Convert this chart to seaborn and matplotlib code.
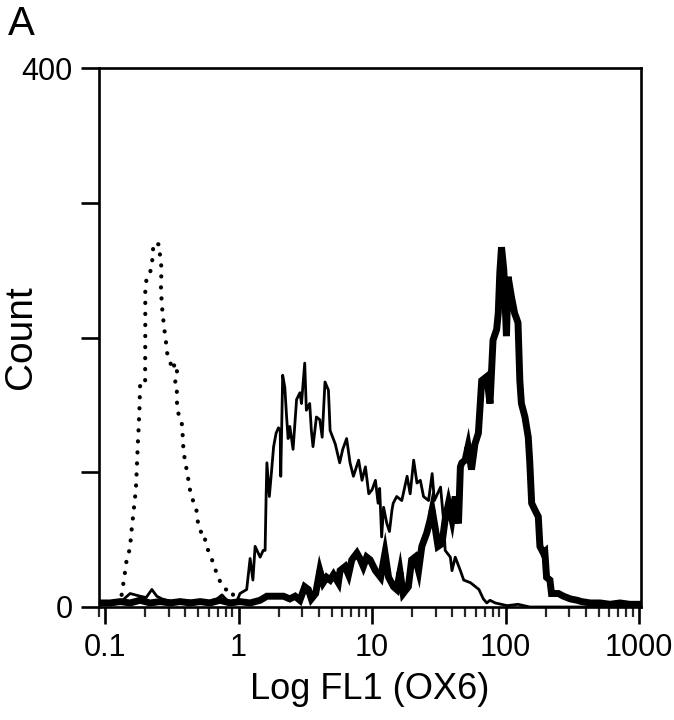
import numpy as np
import pandas as pd
import matplotlib
matplotlib.use("Agg")
import matplotlib.pyplot as plt
import seaborn as sns
from matplotlib.ticker import LogLocator, FixedLocator, NullFormatter, FixedFormatter

# ---------------- data ----------------
# isotype control (dotted)
iso_x = [0.133, 0.141, 0.145, 0.154, 0.156, 0.163, 0.170, 0.173, 0.176, 0.178, 0.181, 0.183,
         0.1995, 0.1995, 0.200, 0.200, 0.200, 0.205, 0.217, 0.224, 0.228, 0.230, 0.255, 0.258,
         0.266, 0.261, 0.266, 0.277, 0.285, 0.290, 0.302, 0.318, 0.335, 0.352, 0.330, 0.345,
         0.344, 0.350, 0.375, 0.382, 0.386, 0.397, 0.414, 0.428, 0.446, 0.481, 0.491, 0.515,
         0.561, 0.561, 0.612, 0.659, 0.706, 0.762, 0.792, 0.889, 0.914, 0.970]
iso_y = [9, 26, 35, 44, 52, 70, 87, 104, 122, 131, 148, 165,
         165, 174, 200, 218, 235, 245, 248, 254, 263, 270, 269, 260,
         250, 241, 224, 207, 198, 189, 185, 176, 181, 171, 166, 162,
         154, 145, 137, 126, 117, 108, 99, 89, 81, 74, 65, 56,
         55, 47, 39, 30, 21, 16, 13, 13, 8, 4]

# thin solid curve
thin_x = [0.092, 0.100, 0.113, 0.132, 0.146, 0.154, 0.168, 0.183, 0.203, 0.224, 0.244, 0.267,
          0.291, 0.334, 0.397, 0.472, 0.562, 0.632, 0.690, 0.751, 0.818, 0.892, 0.960, 1.024,
          1.15, 1.22, 1.28, 1.33, 1.45, 1.53, 1.58, 1.61, 1.63, 1.70, 1.77, 1.83,
          1.91, 1.99, 2.05, 2.07, 2.14, 2.22, 2.29, 2.35, 2.42, 2.56, 2.72, 2.88,
          2.96, 3.13, 3.22, 3.41, 3.51, 3.61, 3.83, 4.06, 4.23, 4.44, 4.71, 4.85,
          5.30, 5.72, 6.03, 6.45, 6.84, 7.25, 7.93, 8.41, 8.92, 9.45, 10.0, 10.6,
          11.1, 11.4, 11.8, 12.2, 12.9, 13.5, 14.1, 14.4, 15.3, 16.7, 18.3, 19.3,
          20.5, 21.7, 23.0, 24.3, 26.5, 28.2, 29.3, 32.6, 34.3, 35.3, 38.6, 39.7,
          42.0, 45.9, 48.6, 54.7, 63.2, 68.2, 72.4, 76.5, 83.7, 103.0, 124.0, 152.0,
          256.0, 1035.0]
thin_y = [2, 3, 2, 4, 8, 10, 9, 8, 7, 13, 8, 6,
          5, 4, 5, 4, 3, 5, 6, 9, 5, 4, 3, 10,
          13, 36, 20, 45, 37, 42, 42, 85, 107, 82, 102, 119,
          129, 133, 131, 97, 172, 163, 141, 125, 134, 117, 154, 159,
          151, 181, 146, 151, 131, 119, 141, 139, 126, 167, 161, 131,
          121, 107, 117, 125, 107, 97, 109, 94, 104, 84, 87, 94,
          77, 88, 52, 74, 62, 56, 72, 77, 82, 79, 97, 84,
          109, 92, 94, 82, 79, 99, 79, 89, 65, 42, 37, 27,
          37, 27, 20, 18, 13, 6, 3, 5, 3, 1, 2, 0,
          0, 0]

# thick solid curve
thick_x = [0.092, 0.109, 0.130, 0.154, 0.183, 0.217, 0.258, 0.307, 0.365, 0.433, 0.515, 0.612,
           0.726, 0.863, 1.024, 1.22, 1.45, 1.63, 2.17, 2.42, 2.65, 2.88, 3.13, 3.33,
           3.51, 3.78, 4.06, 4.30, 4.57, 4.85, 5.14, 5.59, 5.76, 6.28, 6.66, 7.05,
           7.70, 8.11, 8.60, 9.12, 9.67, 10.6, 11.6, 12.5, 13.3, 14.5, 15.3, 16.2,
           17.1, 18.7, 19.8, 21.0, 22.3, 23.6, 25.7, 27.3, 28.2, 29.9, 31.2, 33.4,
           35.3, 37.4, 39.7, 42.0, 44.4, 45.9, 47.1, 49.8, 52.4, 55.6, 59.0, 62.6,
           66.3, 72.4, 76.5, 80.6, 85.8, 88.2, 90.6, 93.3, 97.1, 101.6, 104.6, 110.8,
           117.0, 124.0, 128.0, 131.5, 139.8, 148.0, 152.0, 157.0, 166.0, 176.0, 181.0, 192.0,
           197.0, 203.0, 215.0, 221.0, 249.0, 272.0, 306.0, 344.0, 372.0, 431.0, 511.0, 607.0,
           720.0, 850.0, 1035.0]
thick_y = [3, 3, 4, 3, 5, 3, 4, 3, 4, 3, 4, 3,
           5, 3, 4, 3, 5, 8, 8, 6, 8, 5, 15, 13,
           6, 10, 27, 18, 22, 20, 24, 18, 27, 30, 24, 35,
           40, 36, 30, 37, 35, 27, 22, 40, 22, 15, 13, 26,
           10, 15, 35, 37, 27, 45, 55, 65, 72, 57, 45, 47,
           65, 77, 65, 82, 62, 104, 107, 109, 119, 102, 121, 129,
           168, 171, 151, 198, 206, 218, 248, 267, 250, 201, 245, 230,
           218, 211, 168, 151, 141, 126, 107, 77, 72, 67, 45, 40,
           41, 22, 20, 10, 10, 8, 6, 5, 4, 3, 3, 2,
           3, 2, 2]

y_ticks = [0, 100, 200, 300, 400]
y_ticklabels = ["0", "", "", "", "400"]
x_ticks = [0.1, 1, 10, 100, 1000]
x_ticklabels = ["0.1", "1", "10", "100", "1000"]

# ---------------- plotting ----------------
sns.set_theme(style="white")
plt.rcParams["font.family"] = ["Liberation Sans", "DejaVu Sans"]

fig = plt.figure(figsize=(6.74, 7.2), dpi=100)
ax = fig.add_axes([99 / 674, 1 - 607 / 720, 542 / 674, 539 / 720])

iso = pd.DataFrame({"x": iso_x, "y": iso_y})
thin = pd.DataFrame({"x": thin_x, "y": thin_y})
thick = pd.DataFrame({"x": thick_x, "y": thick_y})

sns.lineplot(data=thick, x="x", y="y", ax=ax, estimator=None, sort=False,
             color="black", lw=5.0, solid_joinstyle="miter")
sns.lineplot(data=thin, x="x", y="y", ax=ax, estimator=None, sort=False,
             color="black", lw=2.0)
sns.lineplot(data=iso, x="x", y="y", ax=ax, estimator=None, sort=False,
             color="black", lw=3.0)
ax.lines[-1].set_linestyle((0, (0.05, 2.6)))
ax.lines[-1].set_dash_capstyle("round")

ax.set_xscale("log")
ax.set_xlim(0.090, 1035)
ax.set_ylim(0, 400)

ax.xaxis.set_major_locator(FixedLocator(x_ticks))
ax.xaxis.set_major_formatter(FixedFormatter(x_ticklabels))
ax.xaxis.set_minor_locator(LogLocator(base=10, subs=np.arange(2, 10), numticks=20))
ax.xaxis.set_minor_formatter(NullFormatter())
ax.set_yticks(y_ticks)
ax.set_yticklabels(y_ticklabels)

for s in ax.spines.values():
    s.set_visible(True)
    s.set_color("black")
    s.set_linewidth(1.9)

ax.tick_params(axis="x", which="major", direction="out", length=12, width=1.9,
               pad=7, labelsize=22, colors="black", bottom=True)
ax.tick_params(axis="x", which="minor", direction="out", length=7, width=1.6,
               bottom=True)
ax.tick_params(axis="y", which="major", direction="out", length=13, width=1.9,
               pad=6, labelsize=22, colors="black", left=True)

ax.set_xlabel("Log FL1 (OX6)", fontsize=26, color="black")
ax.set_ylabel("Count", fontsize=28, color="black")
ax.xaxis.set_label_coords(0.5, -0.12)
ax.yaxis.set_label_coords(-0.11, 0.5)

fig.text(8 / 674, 1 - 35 / 720, "A", fontsize=29, color="black", ha="left", va="baseline")

fig.savefig("out.png", dpi=100)
